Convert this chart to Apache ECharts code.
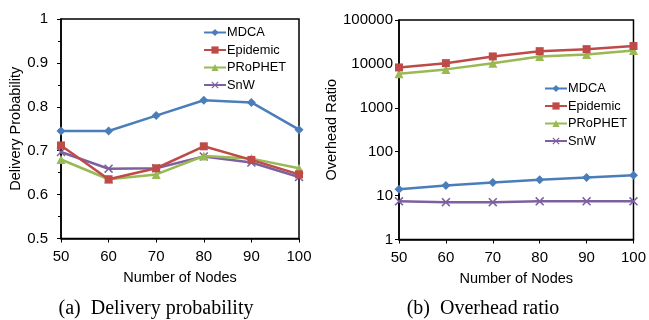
<!DOCTYPE html>
<html>
<head>
<meta charset="utf-8">
<script src="https://cdn.jsdelivr.net/npm/echarts@6/dist/echarts.min.js"></script>
<style>
html,body{margin:0;padding:0;background:#fff;}
#c{width:649px;height:320px;}
</style>
</head>
<body>
<div id="c"></div>
<script>
// ---- data ----
const nodes = ['50', '60', '70', '80', '90', '100'];
const seriesNames = ['MDCA', 'Epidemic', 'PRoPHET', 'SnW'];

// (a) Delivery probability
const deliveryMDCA     = [0.745, 0.745, 0.780, 0.815, 0.810, 0.748];
const deliveryEpidemic = [0.712, 0.635, 0.660, 0.710, 0.679, 0.646];
const deliveryPRoPHET  = [0.680, 0.635, 0.646, 0.688, 0.682, 0.660];
const deliverySnW      = [0.697, 0.659, 0.660, 0.687, 0.673, 0.640];

// (b) Overhead ratio
const overheadMDCA     = [14, 17, 20, 23, 26, 29];
const overheadEpidemic = [8300, 10400, 14800, 19500, 21700, 25500];
const overheadPRoPHET  = [6000, 7500, 10400, 14800, 16400, 20200];
const overheadSnW      = [7.4, 7.1, 7.1, 7.4, 7.4, 7.4];

const deliveryTicks = [0.5, 0.6, 0.7, 0.8, 0.9, 1];
const overheadTicks = [1, 10, 100, 1000, 10000, 100000];

const captionA = '(a)  Delivery probability';
const captionB = '(b)  Overhead ratio';

// ---- styles ----
const colors = ['#4a7ebb', '#be4b48', '#98b954', '#7d60a0'];
const xPath = 'path://M0,1.2L1.2,0L5,3.8L8.8,0L10,1.2L6.2,5L10,8.8L8.8,10L5,6.2L1.2,10L0,8.8L3.8,5Z';
const symbols = ['diamond', 'rect', 'triangle', xPath];
const symbolSizes = [9, 8, 9, 9];
const font = '"Liberation Sans", Arial, sans-serif';

function mkSeries(name, idx, data, axisIdx) {
  return {
    name: name, type: 'line', data: data,
    xAxisIndex: axisIdx, yAxisIndex: axisIdx,
    symbol: symbols[idx], symbolSize: symbolSizes[idx],
    showSymbol: true,
    lineStyle: { width: 2.5, color: colors[idx] },
    itemStyle: { color: colors[idx] },
    animation: false, z: 3 + (3 - idx)
  };
}

const xAxisCommon = {
  type: 'category', data: nodes, boundaryGap: false,
  axisLine: { show: true, lineStyle: { color: '#000', width: 1.5 } },
  axisTick: { show: true, inside: false, length: 4, lineStyle: { color: '#000', width: 1 } },
  axisLabel: { color: '#000', fontFamily: font, fontSize: 15, margin: 11 },
  splitLine: { show: false },
  name: 'Number of Nodes', nameLocation: 'middle', nameGap: 32,
  nameTextStyle: { color: '#000', fontFamily: font, fontSize: 14.5 }
};

const legendCommon = {
  orient: 'vertical', itemWidth: 22, itemHeight: 9, itemGap: 4.5,
  textStyle: { color: '#000', fontFamily: font, fontSize: 12.8, padding: [0, 0, 0, -4] },
  data: seriesNames, padding: 0
};

const chart = echarts.init(document.getElementById('c'), null, { renderer: 'canvas' });
chart.setOption({
  animation: false,
  backgroundColor: '#fff',
  color: colors,
  grid: [
    { left: 61, top: 19, width: 238, height: 219.5, show: true, borderColor: '#000', borderWidth: 1.5, backgroundColor: 'transparent' },
    { left: 399, top: 20, width: 236, height: 219.5, show: true, borderColor: '#000', borderWidth: 1.5, backgroundColor: 'transparent' }
  ],
  xAxis: [
    Object.assign({}, xAxisCommon, { gridIndex: 0 }),
    Object.assign({}, xAxisCommon, { gridIndex: 1 })
  ],
  yAxis: [
    {
      gridIndex: 0, type: 'value',
      min: deliveryTicks[0], max: deliveryTicks[deliveryTicks.length - 1], interval: 0.1,
      axisLine: { show: true, lineStyle: { color: '#000', width: 1.5 } },
      axisTick: { show: true, length: 4, lineStyle: { color: '#000' } },
      minorTick: { show: true, splitNumber: 2, length: 3, lineStyle: { color: '#000' } },
      axisLabel: { color: '#000', fontFamily: font, fontSize: 15, margin: 13,
        formatter: v => String(Math.round(v * 10) / 10) },
      splitLine: { show: false },
      name: 'Delivery Probability', nameLocation: 'middle', nameGap: 36.5,
      nameTextStyle: { color: '#000', fontFamily: font, fontSize: 14.5 }
    },
    {
      gridIndex: 1, type: 'log', logBase: 10,
      min: overheadTicks[0], max: overheadTicks[overheadTicks.length - 1],
      axisLine: { show: true, lineStyle: { color: '#000', width: 1.5 } },
      axisTick: { show: true, length: 4, lineStyle: { color: '#000' } },
      axisLabel: { color: '#000', fontFamily: font, fontSize: 15, margin: 6,
        formatter: v => String(Math.round(v)) },
      splitLine: { show: false },
      name: 'Overhead Ratio', nameLocation: 'middle', nameGap: 49.5,
      nameTextStyle: { color: '#000', fontFamily: font, fontSize: 14.5 }
    }
  ],
  legend: [
    Object.assign({}, legendCommon, { left: 203, top: 26 }),
    Object.assign({}, legendCommon, { left: 544, top: 82 })
  ],
  series: [
    mkSeries('MDCA', 0, deliveryMDCA, 0),
    mkSeries('Epidemic', 1, deliveryEpidemic, 0),
    mkSeries('PRoPHET', 2, deliveryPRoPHET, 0),
    mkSeries('SnW', 3, deliverySnW, 0),
    mkSeries('MDCA', 0, overheadMDCA, 1),
    mkSeries('Epidemic', 1, overheadEpidemic, 1),
    mkSeries('PRoPHET', 2, overheadPRoPHET, 1),
    mkSeries('SnW', 3, overheadSnW, 1)
  ],
  graphic: [
    { type: 'text',
      style: { text: captionA, x: 156, y: 309, textAlign: 'center', textVerticalAlign: 'middle',
        font: '20px "Liberation Serif", "Times New Roman", serif', fill: '#000' } },
    { type: 'text',
      style: { text: captionB, x: 483, y: 309, textAlign: 'center', textVerticalAlign: 'middle',
        font: '20px "Liberation Serif", "Times New Roman", serif', fill: '#000' } }
  ]
});
</script>
</body>
</html>
